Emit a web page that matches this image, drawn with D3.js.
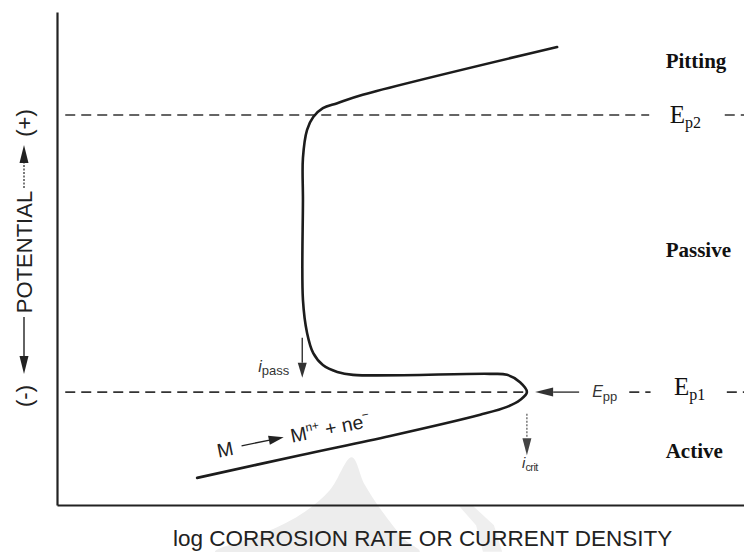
<!DOCTYPE html>
<html>
<head>
<meta charset="utf-8">
<script src="https://cdn.jsdelivr.net/npm/d3@7"></script>
<style>
  html, body { margin: 0; padding: 0; background: #fff; }
  svg { display: block; }
</style>
</head>
<body>
<svg id="chart" width="744" height="552"></svg>
<script>
// ---------- data (x = log current density, y = potential, arbitrary units 0..100) ----------
const curveLogI      = [20.4, 35.4, 48.5, 61.6, 65.5, 67.4, 68.4, 67.4, 65.5, 63.0, 43.1, 40.8, 38.7, 37.3, 36.4, 35.8, 35.8, 35.8, 36.4, 37.3, 38.7, 40.8, 44.5, 72.8];
const curvePotential = [ 5.5, 10.1, 14.0, 18.3, 19.9, 21.3, 22.9, 24.9, 26.4, 26.6, 26.4, 27.0, 28.4, 30.8, 34.9, 41.6, 61.9, 70.4, 76.1, 78.7, 80.5, 81.5, 83.2, 92.9];

const levelNames     = ["Ep2", "Ep1"];
const levelPotential = [79.1, 22.9];
const levelSegments  = [[[1.2, 86.2], [97.2, 100]], [[1.2, 68.0], [83.3, 86.4], [97.5, 100]]];

const regionNames     = ["Pitting", "Passive", "Active"];
const regionPotential = [88.6, 50.3, 9.5];

const xTitle = "log CORROSION RATE OR CURRENT DENSITY";
const yTitleParts = ["(-)", "POTENTIAL", "(+)"];

// watermark (faint logo in the scan)
const wmTentX = [23.0, 29.5, 35.4, 39.7, 42.9, 44.8, 47.7, 50.7, 52.8];
const wmTentY = [-9.5, -6.1, -2.0, 3.0, 9.7, 4.1, -2.0, -7.1, -9.5];
const wmBandX = [58.4, 61.0, 62.0, 64.8, 63.6, 60.4];
const wmBandY = [0, -4.1, -9.5, -9.5, -4.1, 0];

// ---------- scales ----------
const svg = d3.select("#chart");
const x = d3.scaleLinear().domain([0, 100]).range([57, 744]);
const y = d3.scaleLinear().domain([0, 100]).range([505, 12]);

const ink = "#222";

// watermark
const wmLine = d3.line().x(d => x(d[0])).y(d => y(d[1])).curve(d3.curveCatmullRomClosed.alpha(0.5));
svg.append("path").datum(wmTentX.map((v, i) => [v, wmTentY[i]]))
  .attr("d", wmLine).attr("fill", "#ededed");
svg.append("path").datum(wmBandX.map((v, i) => [v, wmBandY[i]]))
  .attr("d", d3.line().x(d => x(d[0])).y(d => y(d[1])))
  .attr("fill", "#efefef");

// ---------- axes ----------
svg.append("g").attr("transform", `translate(0,${y(0)})`)
  .call(d3.axisBottom(x).tickValues([]).tickSizeOuter(0))
  .call(g => g.select(".domain").attr("stroke", ink).attr("stroke-width", 2.2));
svg.append("g").attr("transform", `translate(${x(0)},0)`)
  .call(d3.axisLeft(y).tickValues([]).tickSizeOuter(0))
  .call(g => g.select(".domain").attr("stroke", ink).attr("stroke-width", 2.2));

// ---------- dashed potential levels ----------
levelNames.forEach((name, i) => {
  levelSegments[i].forEach(seg => {
    svg.append("line")
      .attr("x1", x(seg[0])).attr("x2", x(seg[1]))
      .attr("y1", y(levelPotential[i])).attr("y2", y(levelPotential[i]))
      .attr("stroke", "#333").attr("stroke-width", 1.6)
      .attr("stroke-dasharray", "10,6");
  });
});

// ---------- polarization curve ----------
const line = d3.line().x(d => x(d[0])).y(d => y(d[1])).curve(d3.curveCatmullRom.alpha(0.5));
svg.append("path")
  .datum(curveLogI.map((v, i) => [v, curvePotential[i]]))
  .attr("d", line)
  .attr("fill", "none").attr("stroke", "#1c1c1c").attr("stroke-width", 2.6)
  .attr("stroke-linejoin", "round").attr("stroke-linecap", "round");

// ---------- arrows ----------
function arrow(x1, y1, x2, y2, opts = {}) {
  const hl = opts.hl || 15, hw = opts.hw || 4.5;
  const ang = Math.atan2(y2 - y1, x2 - x1);
  const bx = x2 - hl * Math.cos(ang), by = y2 - hl * Math.sin(ang);
  svg.append("line").attr("x1", x1).attr("y1", y1).attr("x2", bx).attr("y2", by)
    .attr("stroke", opts.color || "#333").attr("stroke-width", opts.sw || 1.4)
    .attr("stroke-dasharray", opts.dash || null);
  const px = -Math.sin(ang), py = Math.cos(ang);
  svg.append("path")
    .attr("d", `M${x2},${y2}L${bx + px * hw},${by + py * hw}L${bx - px * hw},${by - py * hw}Z`)
    .attr("fill", opts.color || "#333");
}
// i_pass
arrow(x(35.7), y(33.9), x(35.7), y(25.8), { hl: 15, hw: 4.5 });
// i_crit
arrow(x(68.4), y(18.5), x(68.4), y(10.1), { hl: 17, hw: 4.5, sw: 1.1, dash: "2,1.5", color: "#444" });
// E_pp
arrow(x(76.0), y(22.9), x(69.6), y(22.9), { hl: 18, hw: 4.5, sw: 1.4 });

// ---------- labels ----------
const sans = "'Liberation Sans', Arial, sans-serif";
const serif = "'Liberation Serif', 'Times New Roman', serif";

regionNames.forEach((name, i) => {
  svg.append("text").attr("x", x(88.6)).attr("y", y(regionPotential[i]))
    .attr("font-family", serif).attr("font-weight", "bold").attr("font-size", 21)
    .attr("fill", "#111").text(name);
});

const lvlX = [89.2, 89.8];
const lvlBase = [77.5, 22.3];
levelNames.forEach((name, i) => {
  const t = svg.append("text").attr("x", x(lvlX[i])).attr("y", y(lvlBase[i]))
    .attr("font-family", serif).attr("font-size", 25).attr("fill", "#111");
  t.append("tspan").text("E");
  t.append("tspan").attr("font-size", 16).attr("dy", 5).text(name.slice(1).toLowerCase());
});

// E_pp
{
  const t = svg.append("text").attr("x", x(77.9)).attr("y", y(21.9))
    .attr("font-family", sans).attr("font-size", 16).attr("fill", "#333");
  t.append("tspan").attr("font-style", "italic").text("E");
  t.append("tspan").attr("font-size", 13).attr("dy", 4).text("pp");
}
// i_pass
{
  const t = svg.append("text").attr("x", x(29.3)).attr("y", y(27.0))
    .attr("font-family", sans).attr("font-size", 16).attr("fill", "#333");
  t.append("tspan").attr("font-style", "italic").text("i");
  t.append("tspan").attr("font-size", 13).attr("dy", 3).text("pass");
}
// i_crit
{
  const t = svg.append("text").attr("x", x(67.7)).attr("y", y(7.5))
    .attr("font-family", sans).attr("font-size", 15).attr("fill", "#333");
  t.append("tspan").attr("font-style", "italic").text("i");
  t.append("tspan").attr("font-size", 11).attr("dy", 3).attr("letter-spacing", -0.6).text("crit");
}

// reaction M -> M^n+ + ne^-
{
  const g = svg.append("g")
    .attr("transform", `translate(${x(23.5)},${y(9.6)}) rotate(-11.5)`)
    .attr("font-family", sans).attr("fill", "#222");
  g.append("text").attr("x", 0).attr("y", 0).attr("font-size", 19.5).text("M");
  g.append("line").attr("x1", 25).attr("x2", 55).attr("y1", -7).attr("y2", -7)
    .attr("stroke", "#222").attr("stroke-width", 1.4);
  g.append("path").attr("d", "M68,-7L53,-11.5L53,-2.5Z").attr("fill", "#222");
  const t = g.append("text").attr("x", 75).attr("y", 0).attr("font-size", 19.5);
  t.append("tspan").text("M");
  t.append("tspan").attr("font-size", 12).attr("dy", -8).text("n+");
  t.append("tspan").attr("dy", 8).text(" + ne");
  t.append("tspan").attr("font-size", 12).attr("dy", -9).text("−");
}

// axis titles
svg.append("text").attr("x", 173).attr("y", 546)
  .attr("font-family", sans).attr("font-size", 22.5).attr("fill", "#222")
  .text(xTitle);

{
  const g = svg.append("g").attr("transform", "translate(32,0)");
  const yl = [396, 252, 123];
  yTitleParts.forEach((s, i) => {
    g.append("text").attr("transform", `translate(0,${yl[i]}) rotate(-90)`)
      .attr("text-anchor", "middle").attr("font-family", sans).attr("font-size", 22)
      .attr("fill", "#222").text(s);
  });
  // arrow toward (-)
  g.append("line").attr("x1", -8).attr("x2", -8).attr("y1", 317).attr("y2", 358)
    .attr("stroke", "#222").attr("stroke-width", 1.4);
  g.append("path").attr("d", "M-8,374L-12.5,356L-3.5,356Z").attr("fill", "#222");
  // arrow toward (+)
  g.append("line").attr("x1", -8).attr("x2", -8).attr("y1", 188).attr("y2", 162)
    .attr("stroke", "#222").attr("stroke-width", 1.2).attr("stroke-dasharray", "2,1.5");
  g.append("path").attr("d", "M-8,145L-12.5,163L-3.5,163Z").attr("fill", "#222");
}
</script>
</body>
</html>
